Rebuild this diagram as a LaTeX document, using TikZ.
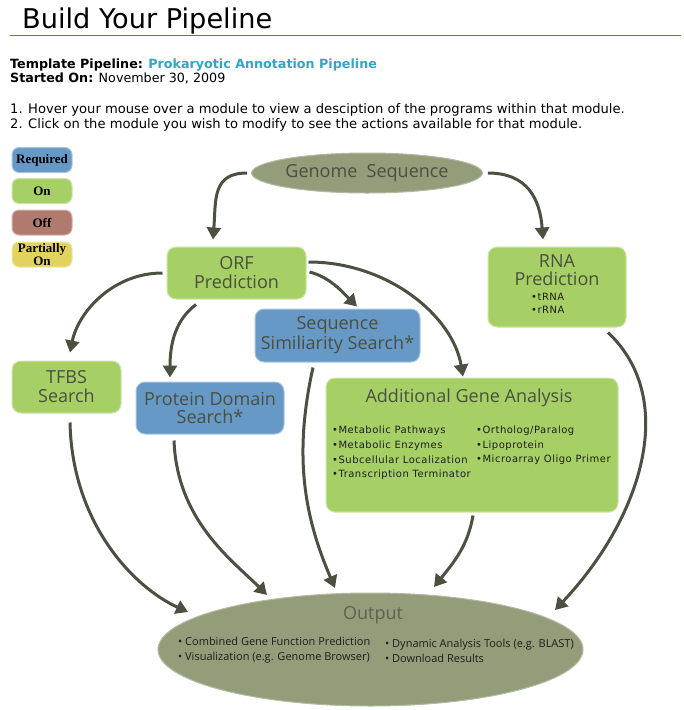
\documentclass[tikz,border=0pt]{standalone}
\usepackage{fontspec}
\setmainfont{DejaVu Sans}
\newfontfamily\modfont{Open Sans}
\newfontfamily\listfont[LetterSpace=5]{DejaVu Sans}
\newfontfamily\keyfont{Liberation Serif}
\usepackage{tikz}
\usetikzlibrary{arrows.meta,positioning,shapes.geometric}

\definecolor{modgreen}{RGB}{166,208,101}
\definecolor{modblue}{RGB}{102,153,198}
\definecolor{modred}{RGB}{176,122,110}
\definecolor{modyellow}{RGB}{226,210,94}
\definecolor{modolive}{RGB}{147,157,122}
\definecolor{flowgray}{RGB}{74,81,64}
\definecolor{modtext}{RGB}{74,79,64}
\definecolor{outtext}{RGB}{92,98,82}
\definecolor{listtext}{RGB}{30,30,28}
\definecolor{linkteal}{RGB}{53,165,197}
\definecolor{ruleolive}{RGB}{107,123,58}

\tikzset{
  module/.style={rectangle, rounded corners=9pt, fill=#1, draw=#1!55!white, line width=1pt, inner sep=0pt, text=modtext, font=\modfont\fontsize{18}{19}\selectfont, align=center},
  keybox/.style={rectangle, rounded corners=7pt, fill=#1, draw=#1!55!white, line width=1pt, minimum width=60pt, minimum height=25pt, inner sep=0pt, font=\keyfont\bfseries\fontsize{13}{10.5}\selectfont, align=center},
  blob/.style={ellipse, fill=modolive, draw=modolive!70!white, line width=1pt, inner sep=0pt, text=modtext, font=\modfont\fontsize{18}{19}\selectfont},
  flow/.style={line width=3pt, draw=flowgray, -{Triangle[length=12pt,width=14pt]}},
  bullets/.style={align=left, inner sep=0pt, text=listtext, font=\listfont\fontsize{10}{14.7}\selectfont},
}

\begin{document}
\begin{tikzpicture}[x=1pt, y=-1pt]
\path[use as bounding box, fill=white] (0,0) rectangle (684,710);

% Heading
\node[anchor=base west, inner sep=0pt, font=\fontsize{27.2}{30}\selectfont] (title) at (22,28) {Build Your Pipeline};
\draw[ruleolive, line width=1pt] (10,35) -- (681,35);
\node[anchor=base west, inner sep=0pt, font=\fontsize{12.7}{14}\selectfont] (tmpl) at (10,68) {\textbf{Template Pipeline:} \textcolor{linkteal}{\textbf{Prokaryotic Annotation Pipeline}}};
\node[anchor=base west, inner sep=0pt, font=\fontsize{12.7}{14}\selectfont] (start) at (10,82) {\textbf{Started On:} November 30, 2009};
\node[anchor=base west, inner sep=0pt, font=\fontsize{13.1}{14}\selectfont] (hint1) at (10,113) {1. Hover your mouse over a module to view a desciption of the programs within that module.};
\node[anchor=base west, inner sep=0pt, font=\fontsize{13.1}{14}\selectfont] (hint2) at (10,128) {2. Click on the module you wish to modify to see the actions available for that module.};

% Legend
\node[keybox=modblue] (keyreq) at (42,160) {Required};
\node[keybox=modgreen] (keyon) at (42,191) {On};
\node[keybox=modred] (keyoff) at (42,222.5) {Off};
\node[keybox=modyellow] (keypart) at (42,254.5) {Partially\\On};

% Modules
\node[blob, minimum width=194pt, minimum height=40pt] (gen) at (367,173) {Genome\ \ Sequence};
\node[module=modgreen, minimum width=139pt, minimum height=52pt] (orf) at (236.5,273) {ORF\\Prediction};
\node[module=modgreen, minimum width=138pt, minimum height=80pt] (rna) at (557,287) {};
\node[text=modtext, align=center, font=\modfont\fontsize{18}{18}\selectfont] (rnatitle) at (557,270) {RNA\\Prediction};
\node[bullets, anchor=west, font=\listfont\fontsize{10}{13}\selectfont] (rnalist) at (531,303.5) {\textbullet tRNA\\\textbullet rRNA};
\node[module=modgreen, minimum width=109pt, minimum height=52pt] (tfbs) at (66.5,387) {TFBS\\Search};
\node[module=modblue, minimum width=148pt, minimum height=52pt, font=\modfont\fontsize{18}{18}\selectfont] (pds) at (210,408) {Protein Domain\\Search*};
\node[module=modblue, minimum width=165pt, minimum height=53pt, font=\modfont\fontsize{18}{20}\selectfont] (sss) at (337.5,335.5) {Sequence\\Similiarity Search*};
\node[module=modgreen, minimum width=292pt, minimum height=134pt] (aga) at (472,445) {};
\node[text=modtext, font=\modfont\fontsize{18}{19}\selectfont] (agatitle) at (469,398) {Additional Gene Analysis};
\node[bullets, anchor=west] (agaleft) at (332,453) {\textbullet Metabolic Pathways\\\textbullet Metabolic Enzymes\\\textbullet Subcellular Localization\\\textbullet Transcription Terminator};
\node[bullets, anchor=west] (agaright) at (476,445.5) {\textbullet Ortholog/Paralog\\\textbullet Lipoprotein\\\textbullet Microarray Oligo Primer};

% Output
\node[blob, minimum width=425pt, minimum height=113pt] (out) at (370.5,649.5) {};
\node[text=outtext, font=\modfont\fontsize{18}{19}\selectfont] (outtitle) at (373,615) {Output};
\node[align=left, inner sep=0pt, anchor=west, text=listtext, font=\modfont\fontsize{11}{15}\selectfont] (outleft) at (178,650.5) {\textbullet{} Combined Gene Function Prediction\\\textbullet{} Visualization (e.g. Genome Browser)};
\node[align=left, inner sep=0pt, anchor=west, text=listtext, font=\modfont\fontsize{11}{15}\selectfont] (outright) at (385,650.5) {\textbullet{} Dynamic Analysis Tools (e.g. BLAST)\\\textbullet{} Download Results};

% Flow out of the genome
\draw[flow] ([xshift=-4pt]gen.west) .. controls +(-35,0) and +(3,-40) .. ([xshift=-23.5pt,yshift=7pt]orf.north);
\draw[flow] ([xshift=5pt]gen.east) .. controls +(40,0) and +(-3,-40) .. ([xshift=-14pt,yshift=7pt]rna.north);

% Flow out of ORF prediction
\draw[flow] ([xshift=-4pt]orf.west) .. controls +(-50,0) and +(8,-40) .. ([xshift=3.5pt,yshift=8pt]tfbs.north);
\draw[flow] ([xshift=-40.5pt,yshift=-5pt]orf.south) .. controls +(-20,15) and +(0,-35) .. ([xshift=-40pt,yshift=4pt]pds.north);
\draw[flow] ([xshift=3pt,yshift=1pt]orf.east) .. controls +(20,5) and +(-15,-15) .. ([xshift=19.5pt,yshift=2pt]sss.north);
\draw[flow] ([xshift=2pt,yshift=11pt]orf.east) .. controls +(80,0) and +(-10,-60) .. ([xshift=-9pt,yshift=1pt]aga.north);

% Flow into the output
\draw[flow] ([xshift=3.5pt,yshift=-9pt]tfbs.south) .. controls +(2,100) and +(-55,-25) .. ([xshift=-182.5pt,yshift=37.5pt]out.center);
\draw[flow] ([xshift=-36pt,yshift=-6pt]pds.south) .. controls +(3,80) and +(-35,-35) .. ([xshift=-103.5pt,yshift=54.5pt]out.center);
\draw[flow] ([xshift=-24.5pt,yshift=-5pt]sss.south) .. controls +(-20,90) and +(-30,-70) .. ([xshift=-35.5pt,yshift=61.5pt]out.center);
\draw[flow] ([xshift=1pt,yshift=-3pt]aga.south) .. controls +(-5,30) and +(20,-25) .. ([xshift=63.5pt,yshift=62.5pt]out.center);
\draw[flow] ([xshift=51pt,yshift=-5pt]rna.south) .. controls +(72,68) and +(85,-90) .. ([xshift=184.5pt,yshift=39.5pt]out.center);
\end{tikzpicture}
\end{document}
